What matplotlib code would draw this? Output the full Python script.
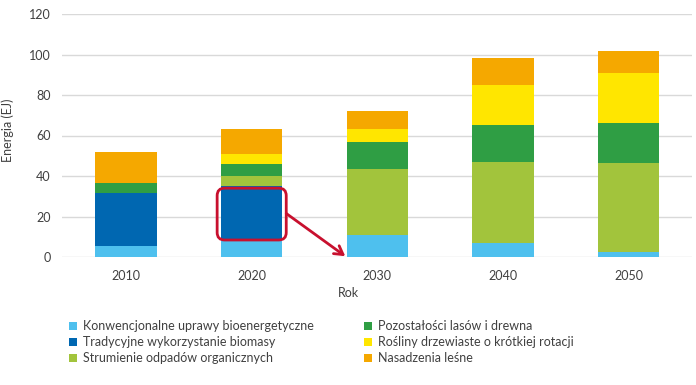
import matplotlib
matplotlib.use("Agg")
import matplotlib.pyplot as plt
from matplotlib.patches import FancyBboxPatch, Patch
import numpy as np

plt.rcParams['font.family'] = ['Lato', 'DejaVu Sans']

years = ["2010", "2020", "2030", "2040", "2050"]
series_names = [
    "Konwencjonalne uprawy bioenergetyczne",
    "Tradycyjne wykorzystanie biomasy",
    "Strumienie odpadów organicznych",
    "Pozostałości lasów i drewna",
    "Rośliny drzewiaste o krótkiej rotacji",
    "Nasadzenia leśne",
]
konwencjonalne = [5.5, 8.5, 11.0, 6.8, 2.6]
tradycyjne = [26.0, 26.5, 0.0, 0.0, 0.0]
odpady = [0.0, 5.0, 32.7, 40.0, 43.7]
pozostalosci = [5.0, 5.9, 12.9, 18.4, 19.7]
rosliny = [0.0, 4.9, 6.6, 19.6, 24.7]
nasadzenia = [15.3, 12.6, 9.1, 13.4, 11.2]
series_values = [konwencjonalne, tradycyjne, odpady, pozostalosci, rosliny, nasadzenia]
colors = ["#4EC0EE", "#0067B1", "#A2C43C", "#2F9E44", "#FFE600", "#F5A800"]
yticks = [0, 20, 40, 60, 80, 100, 120]

fig = plt.figure(figsize=(6.96, 3.85), dpi=100)
ax = fig.add_axes([62/696, 1-257/385, 630/696, 243/385])

x = np.arange(len(years))
bw = 0.49
bottom = np.zeros(len(years))
for vals, col in zip(series_values, colors):
    ax.bar(x, vals, bw, bottom=bottom, color=col, zorder=3, linewidth=0)
    bottom += np.array(vals)

ax.set_ylim(0, 120)
ax.set_xlim(-0.51, 4.505)
ax.set_yticks(yticks)
ax.set_xticks(x)
ax.set_xticklabels(years)
ax.grid(axis='y', color='#d9d9d9', linewidth=1.0, zorder=0)
for s in ax.spines.values():
    s.set_visible(False)
ax.tick_params(axis='both', length=0, labelsize=9, labelcolor='#404040')
ax.tick_params(axis='y', pad=8)
ax.tick_params(axis='x', pad=9)

# Red highlight box and arrow
red = '#C8102E'
box = FancyBboxPatch((1 - bw/2 - 0.03, 8.4), bw + 0.06, 25.6,
                     boxstyle="round,pad=0,rounding_size=0.06",
                     mutation_aspect=120/243*125.6,
                     fill=False, edgecolor=red, linewidth=2.0, zorder=5)
ax.add_patch(box)
ax.annotate("", xy=(2 - bw/2 - 0.01, 0.4), xytext=(1 + bw/2 + 0.03, 21.5),
            arrowprops=dict(arrowstyle='->,head_length=0.6,head_width=0.35',
                            color=red, linewidth=2.0, shrinkA=0, shrinkB=0),
            zorder=6)

fig.text(8/696, 1-130/385, "Energia (EJ)", rotation=90, ha='center', va='center',
         fontsize=9, color='#404040')
fig.text(348/696, 1-293/385, "Rok", ha='center', va='center', fontsize=9, color='#404040')

handles = [Patch(facecolor=c, edgecolor='none') for c in colors]
fig.legend(handles, series_names, ncol=2, loc='upper left',
           bbox_to_anchor=(58/696, 1-309/385), frameon=False,
           fontsize=9, handlelength=0.65, handleheight=0.65, handletextpad=0.45,
           labelspacing=0.33, columnspacing=4.0, labelcolor='#404040')

fig.savefig("out.png", dpi=100)
